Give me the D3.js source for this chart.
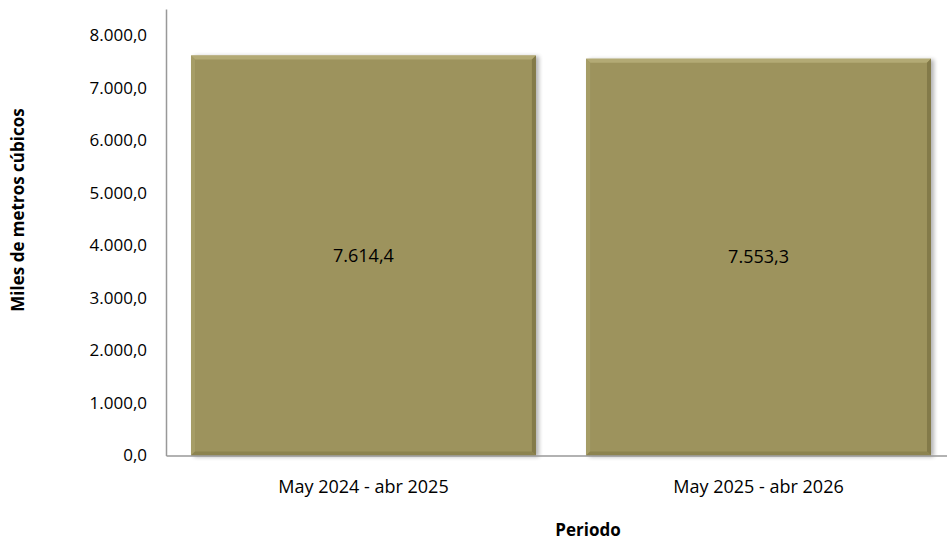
<!DOCTYPE html>
<html>
<head>
<meta charset="utf-8">
<script src="https://cdn.jsdelivr.net/npm/d3@7"></script>
<style>
  body { margin: 0; background: #fff; }
  text { font-family: "Open Sans", "Noto Sans", sans-serif; fill: #000; }
</style>
</head>
<body>
<div id="chart-area"></div>
<script>
// data
var periods = ["May 2024 - abr 2025", "May 2025 - abr 2026"];
var values = [7614.4, 7553.3];
var yTicks = [0, 1000, 2000, 3000, 4000, 5000, 6000, 7000, 8000];

var width = 947, height = 543;
var fmt = d3.formatLocale({ decimal: ",", thousands: ".", grouping: [3], currency: ["", ""] }).format(",.1f");

var svg = d3.select("#chart-area").append("svg")
	.attr("width", width)
	.attr("height", height);

var x = d3.scaleBand()
	.domain(periods)
	.range([166, 956])
	.paddingInner(0.127)
	.paddingOuter(0.0633);

var y = d3.scaleLinear()
	.domain([0, 8500])
	.range([455.5, 9]);

var defs = svg.append("defs");
var sh = defs.append("filter").attr("id", "shadow").attr("x", "-10%").attr("y", "-10%").attr("width", "130%").attr("height", "130%");
sh.append("feGaussianBlur").attr("in", "SourceAlpha").attr("stdDeviation", 2);
sh.append("feOffset").attr("dx", 3).attr("dy", 1).attr("result", "b");
sh.append("feComponentTransfer").append("feFuncA").attr("type", "linear").attr("slope", 0.3);
var m = sh.append("feMerge");
m.append("feMergeNode");
m.append("feMergeNode").attr("in", "SourceGraphic");

// y axis
var yAxis = svg.append("g")
	.attr("transform", "translate(166,0)")
	.call(d3.axisLeft(y).tickValues(yTicks).tickSize(0).tickPadding(19).tickFormat(fmt));
yAxis.select(".domain").attr("stroke", "#999").attr("stroke-width", 1.5);
yAxis.selectAll("text").style("font-size", "17px").attr("fill", "#000");

// bars
var bev = 4;
var bars = svg.selectAll(".bar").data(values).enter().append("g")
	.attr("class", "bar")
	.attr("filter", "url(#shadow)");

bars.append("rect")
	.attr("x", (d, i) => x(periods[i]))
	.attr("y", (d) => y(d))
	.attr("width", x.bandwidth())
	.attr("height", (d) => y(0) - y(d))
	.attr("fill", "#9d935d");

// bevel edges
function edge(pts) { return pts.map((p) => p.join(",")).join(" "); }
bars.append("polygon").attr("fill", "#b3aa74").attr("points", (d, i) => {
	var x0 = x(periods[i]), x1 = x0 + x.bandwidth(), y0 = y(d);
	return edge([[x0, y0], [x1, y0], [x1 - bev, y0 + bev], [x0 + bev, y0 + bev]]);
});
bars.append("polygon").attr("fill", "#a69d66").attr("points", (d, i) => {
	var x0 = x(periods[i]), y0 = y(d), y1 = y(0);
	return edge([[x0, y0], [x0 + bev, y0 + bev], [x0 + bev, y1 - bev], [x0, y1]]);
});
bars.append("polygon").attr("fill", "#837a49").attr("points", (d, i) => {
	var x1 = x(periods[i]) + x.bandwidth(), y0 = y(d), y1 = y(0);
	return edge([[x1, y0], [x1, y1], [x1 - bev, y1 - bev], [x1 - bev, y0 + bev]]);
});
bars.append("polygon").attr("fill", "#8c834f").attr("points", (d, i) => {
	var x0 = x(periods[i]), x1 = x0 + x.bandwidth(), y1 = y(0);
	return edge([[x0, y1], [x0 + bev, y1 - bev], [x1 - bev, y1 - bev], [x1, y1]]);
});

// value labels
svg.selectAll(".val").data(values).enter().append("text")
	.attr("class", "val")
	.attr("x", (d, i) => x(periods[i]) + x.bandwidth() / 2)
	.attr("y", (d) => (y(d) + y(0)) / 2)
	.attr("dy", "0.35em")
	.attr("text-anchor", "middle")
	.style("font-size", "18px")
	.text((d) => fmt(d));

// x axis
var xAxis = svg.append("g")
	.attr("transform", "translate(0," + y(0) + ")")
	.call(d3.axisBottom(x).tickSize(0).tickPadding(25));
xAxis.select(".domain").attr("stroke", "#999").attr("stroke-width", 1.5);
xAxis.selectAll("text").style("font-size", "18px").attr("fill", "#000");

// titles
svg.append("text")
	.attr("x", 588)
	.attr("y", 536)
	.attr("text-anchor", "middle")
	.style("font-size", "17px")
	.style("font-weight", "bold")
	.text("Periodo");

svg.append("text")
	.attr("transform", "rotate(-90)")
	.attr("x", -210)
	.attr("y", 24)
	.attr("text-anchor", "middle")
	.style("font-size", "17px")
	.style("font-weight", "bold")
	.text("Miles de metros cúbicos");
</script>
</body>
</html>
